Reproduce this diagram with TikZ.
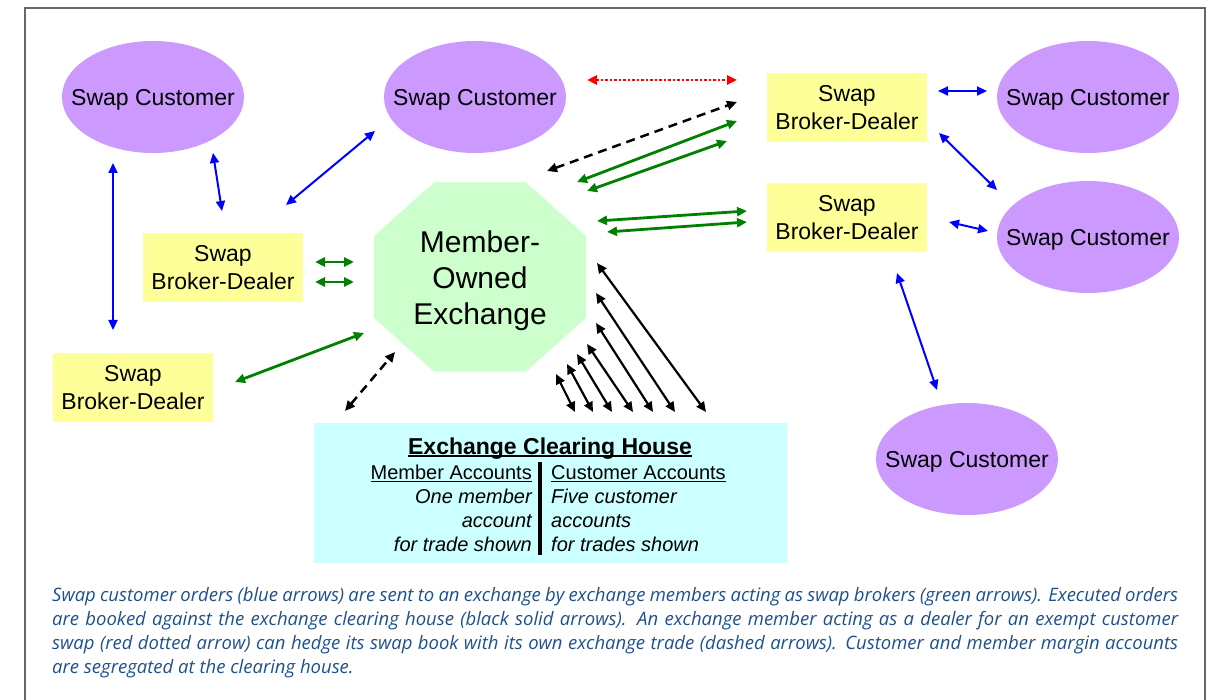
\documentclass[tikz,border=0pt]{standalone}
\usepackage{fontspec}
\setmainfont{Liberation Sans}
\newfontfamily\capfont{Open Sans}
\usetikzlibrary{arrows.meta,shapes.geometric}
\definecolor{custfill}{HTML}{CC99FF}
\definecolor{boxfill}{HTML}{FFFF99}
\definecolor{octfill}{HTML}{CCFFCC}
\definecolor{chfill}{HTML}{CCFFFF}
\definecolor{arrblue}{HTML}{0000FF}
\definecolor{arrgreen}{HTML}{008000}
\definecolor{arrred}{HTML}{FF0000}
\definecolor{capblue}{RGB}{30,80,140}
\definecolor{framegray}{HTML}{666666}
\newcommand\ulx[2][1.5pt]{\setbox0\hbox{#2}\leavevmode\rlap{\rule[-3pt]{\wd0}{#1}}\box0}
\tikzset{
  cust/.style={ellipse, fill=custfill, minimum width=182pt, minimum height=112pt, inner sep=0pt, text depth=0pt, font=\fontsize{23}{28}\selectfont},
  bdbox/.style={rectangle, fill=boxfill, minimum width=160pt, minimum height=69pt, inner sep=0pt, align=center, font=\fontsize{23}{28}\selectfont},
  dbl/.style={{Triangle[length=10pt,width=9pt]}-{Triangle[length=10pt,width=9pt]}},
  bluearr/.style={dbl, draw=arrblue, line width=2pt},
  greenarr/.style={dbl, draw=arrgreen, line width=2.8pt},
  blackarr/.style={dbl, draw=black, line width=2.2pt},
  dasharr/.style={dbl, draw=black, line width=2.5pt, dash pattern=on 9pt off 6pt},
  redarr/.style={dbl, draw=arrred, line width=2.5pt, dash pattern=on 2.5pt off 2pt},
  chtxt/.style={inner sep=0pt, font=\fontsize{20}{24}\selectfont},
}
\begin{document}
\begin{tikzpicture}[x=1pt,y=-1pt]
\useasboundingbox (0,0) rectangle (1209,700);
\draw[framegray, line width=1.5pt] (25,700) -- (25,8) -- (1205,8) -- (1205,700);

% customers
\node[cust] (c1) at (153,97) {\makebox[0pt]{Swap Customer}};
\node[cust] (c2) at (475,97) {\makebox[0pt]{Swap Customer}};
\node[cust] (c3) at (1088,97) {\makebox[0pt]{Swap Customer}};
\node[cust] (c4) at (1088,237) {\makebox[0pt]{Swap Customer}};
\node[cust] (c5) at (967,459) {\makebox[0pt]{Swap Customer}};

% broker-dealers
\node[bdbox] (d1) at (847,107.5) {Swap\\Broker-Dealer};
\node[bdbox] (d2) at (847,217.5) {Swap\\Broker-Dealer};
\node[bdbox] (d3) at (223,267.5) {Swap\\Broker-Dealer};
\node[bdbox] (d4) at (133,387.5) {Swap\\Broker-Dealer};

% exchange octagon
\fill[octfill] (434,182.5) -- (526,182.5) -- (586,236) -- (586,318) -- (526,371.5) -- (434,371.5) -- (374,318) -- (374,236) -- cycle;
\node[align=center, inner sep=0pt, font=\fontsize{30}{36}\selectfont] (ex) at (480,281) {Member-\\Owned\\Exchange};

% clearing house
\node[rectangle, fill=chfill, minimum width=473pt, minimum height=140pt, inner sep=0pt] (ch) at (550.5,493) {};
\node[anchor=base, inner sep=0pt, font=\fontsize{23}{28}\selectfont\bfseries] (cht) at (550,454) {\ulx[2pt]{Exchange Clearing House}};
\draw[line width=3.5pt] (540,462) -- (540,555);
\node[chtxt, anchor=base east] (l1) at (532,479) {\ulx[1.2pt]{Member Accounts}};
\node[chtxt, anchor=base east] (l2) at (532,503) {\itshape One member};
\node[chtxt, anchor=base east] (l3) at (532,527) {\itshape account};
\node[chtxt, anchor=base east] (l4) at (532,551) {\itshape for trade shown};
\node[chtxt, anchor=base west] (r1) at (551,479) {\ulx[1.2pt]{Customer Accounts}};
\node[chtxt, anchor=base west] (r2) at (551,503) {\itshape Five customer};
\node[chtxt, anchor=base west] (r3) at (551,527) {\itshape accounts};
\node[chtxt, anchor=base west] (r4) at (551,551) {\itshape for trades shown};

% arrow end points
\coordinate (b1a) at (113,163); \coordinate (b1b) at (113,330);
\coordinate (b2a) at (213,153); \coordinate (b2b) at (222,211);
\coordinate (b3a) at (375,131); \coordinate (b3b) at (286,205);
\coordinate (b4a) at (938,91);  \coordinate (b4b) at (987,91);
\coordinate (b5a) at (939,133); \coordinate (b5b) at (997,190);
\coordinate (b6a) at (949,222); \coordinate (b6b) at (988,231);
\coordinate (b7a) at (897,273); \coordinate (b7b) at (937,390);
\coordinate (ra) at (587,80); \coordinate (rb) at (737,80);
\coordinate (k1a) at (547,171); \coordinate (k1b) at (737,102);
\coordinate (k2a) at (345,411); \coordinate (k2b) at (395,352);
\coordinate (g1a) at (577,182); \coordinate (g1b) at (737,121);
\coordinate (g2a) at (587,191); \coordinate (g2b) at (727,141);
\coordinate (g3a) at (597,221); \coordinate (g3b) at (747,211);
\coordinate (g4a) at (607,232); \coordinate (g4b) at (747,222);
\coordinate (g5a) at (315,262); \coordinate (g5b) at (354,262);
\coordinate (g6a) at (315,282); \coordinate (g6b) at (354,282);
\coordinate (g7a) at (235,382); \coordinate (g7b) at (364,333);
\coordinate (s1a) at (597,263); \coordinate (s1b) at (706,412);
\coordinate (s2a) at (596,293); \coordinate (s2b) at (675,412);
\coordinate (s3a) at (596,323); \coordinate (s3b) at (653,412);
\coordinate (s4a) at (587,344); \coordinate (s4b) at (633,412);
\coordinate (s5a) at (577,354); \coordinate (s5b) at (612,412);
\coordinate (s6a) at (567,364); \coordinate (s6b) at (593,412);
\coordinate (s7a) at (556,374); \coordinate (s7b) at (575,412);

\foreach \i in {1,...,7} {\draw[bluearr] (b\i a) -- (b\i b);}
\foreach \i in {1,...,7} {\draw[greenarr] (g\i a) -- (g\i b);}
\foreach \i in {1,...,7} {\draw[blackarr] (s\i a) -- (s\i b);}
\draw[dasharr] (k1a) -- (k1b);
\draw[dasharr] (k2a) -- (k2b);
\draw[redarr] (ra) -- (rb);

% caption
\node[anchor=base west, inner sep=0pt, text=capblue] (cap) at (52,601) {\parbox[t]{1126pt}{\capfont\itshape\fontsize{18.5}{24}\selectfont\baselineskip=24pt
\hbox to 1126pt{Swap customer orders (blue arrows) are sent to an exchange by exchange members acting as swap brokers (green arrows). Executed orders}
\hbox to 1126pt{are booked against the exchange clearing house (black solid arrows). An exchange member acting as a dealer for an exempt customer}
\hbox to 1126pt{swap (red dotted arrow) can hedge its swap book with its own exchange trade (dashed arrows). Customer and member margin accounts}
\hbox{are segregated at the clearing house.}}};
\end{tikzpicture}
\end{document}
